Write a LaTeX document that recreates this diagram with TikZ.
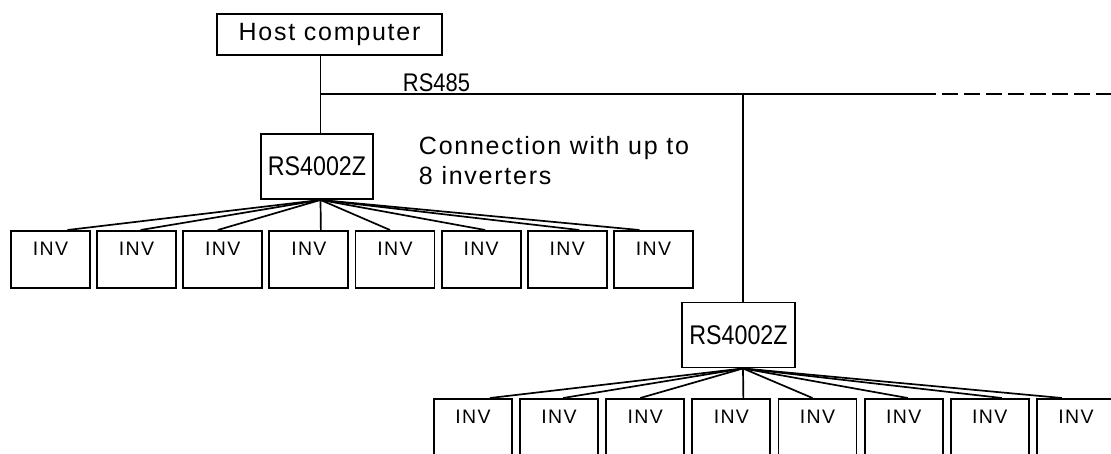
\documentclass[tikz,border=0pt]{standalone}
\usepackage{fontspec}
\setmainfont{Liberation Sans}
\newfontfamily\widefont[LetterSpace=7]{Liberation Sans}
\newfontfamily\narrowfont[FakeStretch=0.86]{Liberation Sans}
\usetikzlibrary{positioning,calc}

\begin{document}
\begin{tikzpicture}[x=1pt, y=-1pt, line width=1.9pt]
\tikzset{
  box/.style={draw, rectangle, inner sep=0pt},
  hostbox/.style={box, minimum width=225pt, minimum height=41pt, font=\widefont\fontsize{25}{30}\selectfont},
  conv/.style={box, minimum width=112pt, minimum height=65pt, font=\narrowfont\fontsize{27}{30}\selectfont},
  inv/.style={box, minimum width=79pt, inner ysep=0pt, text height=25pt, text depth=32pt, font=\widefont\fontsize{19.5}{22}\selectfont},
  note/.style={align=left, inner sep=0pt, font=\widefont\fontsize{25}{30}\selectfont},
  buslabel/.style={inner sep=0pt, font=\narrowfont\fontsize{25.5}{30}\selectfont},
  fan/.style={line width=1.7pt},
}
\useasboundingbox (0,0) rectangle (1111,453);
\clip (0,0) rectangle (1111,453);

% Host and RS485 bus
\node (host) [hostbox] at (329.5,34.5) {Host computer};
\coordinate (tap1) at (320.5,94);
\coordinate (tap2) at (743,94);
\coordinate (busend) at (920,94);
\coordinate (far) at (1111,94);
\node (rs) [buslabel, anchor=base west] at ($(tap1)+(81.5,-3)$) {RS485};

% Converters
\node (conv1) [conv] at (317,166.5) {RS4002Z};
\node (conv2) [conv, minimum width=113pt] at (738.5,335) {RS4002Z};
\node (note) [note, anchor=north west] at (418,135) {Connection with up to\\8 inverters};

% Inverters
\foreach \k in {1,...,8} {
  \node (a\k) [inv, anchor=north west] at ({10+86.14*(\k-1)},230) {INV};
  \node (b\k) [inv, minimum width=78pt, anchor=north west] at ({433+86.14*(\k-1)},398) {INV};
}

% Bus lines
\draw (host.south -| tap1) -- (tap1) -- (conv1.north -| tap1);
\draw (tap1) -- (busend);
\draw[dash pattern=on 16pt off 6pt] (busend) -- (far);
\draw (tap2) -- (conv2.north -| tap2);

% Fan out to inverters
\coordinate (hub1) at (tap1 |- conv1.south);
\coordinate (hub2) at (tap2 |- conv2.south);
\foreach \k/\dx in {1/17,2/4,3/-5,4/12,5/-5,6/4,7/12,8/-14} {
  \draw[fan] (hub1) -- ([xshift=\dx pt]a\k.north);
  \draw[fan] (hub2) -- ([xshift=\dx pt]b\k.north);
}

\end{tikzpicture}
\end{document}
